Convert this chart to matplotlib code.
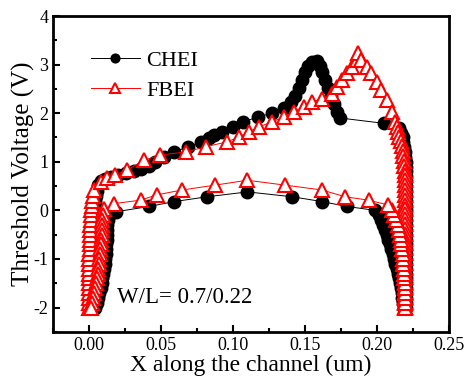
import matplotlib
matplotlib.use("Agg")
import matplotlib.pyplot as plt
from matplotlib.ticker import MultipleLocator

# ---------------- data ----------------
chei_up_x = [0.0000, 0.0003, 0.0006, 0.0008, 0.0010, 0.0012, 0.0014, 0.0015, 0.0016, 0.0017,
             0.0018, 0.0019, 0.0020, 0.0021, 0.0022, 0.0023, 0.0025, 0.0027, 0.0029, 0.0032,
             0.0035, 0.0038, 0.0042, 0.0047, 0.0053,
             0.0062, 0.0080, 0.0110, 0.0150, 0.0200, 0.0260, 0.0310, 0.0360, 0.0415, 0.0460,
             0.0520, 0.0590, 0.0690, 0.0780, 0.0830, 0.0870, 0.0920, 0.1000, 0.1070, 0.1170,
             0.1270, 0.1350, 0.1400, 0.1430, 0.1460, 0.1480, 0.1500, 0.1520, 0.1550, 0.1580,
             0.1600, 0.1620, 0.1640, 0.1660, 0.1680, 0.1700, 0.1720, 0.1745, 0.2050, 0.2150,
             0.2168, 0.2176, 0.2182, 0.2187, 0.2191, 0.2194, 0.2197, 0.2199, 0.2200, 0.2201,
             0.2202, 0.2202, 0.2202, 0.2202, 0.2202, 0.2202, 0.2202, 0.2202, 0.2202, 0.2202,
             0.2202, 0.2202, 0.2202, 0.2202, 0.2202, 0.2202, 0.2202, 0.2202, 0.2202, 0.2202,
             0.2202, 0.2202, 0.2202, 0.2202, 0.2202, 0.2202, 0.2202]
chei_up_y = [-2.0, -1.9, -1.8, -1.7, -1.6, -1.5, -1.4, -1.3, -1.2, -1.1,
             -1.0, -0.9, -0.8, -0.7, -0.6, -0.5, -0.4, -0.3, -0.2, -0.1,
             0.0, 0.1, 0.2, 0.3, 0.4,
             0.52, 0.60, 0.64, 0.68, 0.72, 0.76, 0.80, 0.86, 0.92, 1.00,
             1.10, 1.20, 1.31, 1.41, 1.48, 1.55, 1.62, 1.72, 1.82, 1.92,
             2.00, 2.10, 2.22, 2.36, 2.52, 2.68, 2.84, 2.97, 3.06, 3.08,
             2.98, 2.84, 2.68, 2.52, 2.36, 2.18, 2.02, 1.90, 1.79, 1.70,
             1.6, 1.5, 1.4, 1.3, 1.2, 1.1, 1.0, 0.9, 0.8, 0.7,
             0.6, 0.5, 0.4, 0.3, 0.2, 0.1, 0.0, -0.1, -0.2, -0.3,
             -0.4, -0.5, -0.6, -0.7, -0.8, -0.9, -1.0, -1.1, -1.2, -1.3,
             -1.4, -1.5, -1.6, -1.7, -1.8, -1.9, -2.0]

chei_low_x = [0.0040, 0.0052, 0.0063, 0.0072, 0.0080, 0.0087, 0.0093, 0.0099, 0.0104, 0.0108,
              0.0112, 0.0115, 0.0118, 0.0120, 0.0122, 0.0124, 0.0126, 0.0128, 0.0131,
              0.0140, 0.0185, 0.0415, 0.0590, 0.0820, 0.1100, 0.1410, 0.1620, 0.1790, 0.1988,
              0.2010, 0.2028, 0.2042, 0.2055, 0.2067, 0.2078, 0.2089, 0.2099, 0.2108, 0.2117,
              0.2126, 0.2135, 0.2143, 0.2150, 0.2157, 0.2163, 0.2169, 0.2174, 0.2179, 0.2184]
chei_low_y = [-2.0, -1.9, -1.8, -1.7, -1.6, -1.5, -1.4, -1.3, -1.2, -1.1,
              -1.0, -0.9, -0.8, -0.7, -0.6, -0.5, -0.4, -0.3, -0.2,
              -0.10, -0.03, 0.08, 0.18, 0.28, 0.38, 0.28, 0.18, 0.08, 0.00,
              -0.1, -0.2, -0.3, -0.4, -0.5, -0.6, -0.7, -0.8, -0.9, -1.0,
              -1.1, -1.2, -1.3, -1.4, -1.5, -1.6, -1.7, -1.8, -1.9, -2.0]

fbei_up_x = [0.0000, 0.0000, 0.0000, 0.0000, 0.0000, 0.0001, 0.0001, 0.0001, 0.0002, 0.0002,
             0.0003, 0.0003, 0.0004, 0.0005, 0.0006, 0.0007, 0.0008, 0.0010, 0.0012, 0.0014,
             0.0016, 0.0019, 0.0022, 0.0026,
             0.0035, 0.0080, 0.0127, 0.0180, 0.0265, 0.0380, 0.0496, 0.0670, 0.0810, 0.0960,
             0.1040, 0.1110, 0.1180, 0.1270, 0.1350, 0.1420, 0.1490, 0.1550, 0.1616, 0.1685,
             0.1720, 0.1755, 0.1790, 0.1824, 0.1860, 0.1870, 0.1890, 0.1927, 0.1960, 0.1997,
             0.2030, 0.2066, 0.2100, 0.2124,
             0.2135, 0.2145, 0.2155, 0.2163, 0.2170, 0.2176, 0.2181, 0.2185, 0.2188, 0.2190,
             0.2192, 0.2193, 0.2194, 0.2195, 0.2195, 0.2195, 0.2195, 0.2196, 0.2196, 0.2196,
             0.2196, 0.2196, 0.2196, 0.2196, 0.2196, 0.2196, 0.2196, 0.2196, 0.2196, 0.2196,
             0.2196, 0.2196, 0.2196, 0.2196, 0.2196, 0.2196, 0.2196, 0.2196]
fbei_up_y = [-2.0, -1.9, -1.8, -1.7, -1.6, -1.5, -1.4, -1.3, -1.2, -1.1,
             -1.0, -0.9, -0.8, -0.7, -0.6, -0.5, -0.4, -0.3, -0.2, -0.1,
             0.0, 0.1, 0.2, 0.3,
             0.42, 0.59, 0.66, 0.73, 0.83, 1.03, 1.14, 1.20, 1.31, 1.41,
             1.51, 1.62, 1.72, 1.82, 1.92, 2.03, 2.13, 2.23, 2.30, 2.40,
             2.54, 2.68, 2.82, 2.95, 3.09, 3.23, 3.09, 2.95, 2.82, 2.64,
             2.47, 2.27, 2.03, 1.82,
             1.72, 1.62, 1.52, 1.42, 1.32, 1.22, 1.12, 1.02, 0.92, 0.82,
             0.72, 0.62, 0.52, 0.42, 0.32, 0.22, 0.12, 0.02, -0.08, -0.18,
             -0.28, -0.38, -0.48, -0.58, -0.68, -0.78, -0.88, -0.98, -1.08, -1.18,
             -1.28, -1.38, -1.48, -1.58, -1.68, -1.78, -1.88, -1.98]

fbei_low_x = [0.0012, 0.0020, 0.0028, 0.0035, 0.0042, 0.0048, 0.0054, 0.0059, 0.0064, 0.0068,
              0.0072, 0.0076, 0.0079, 0.0082, 0.0085, 0.0087, 0.0089, 0.0091, 0.0093, 0.0095,
              0.0104, 0.0175, 0.0358, 0.0473, 0.0647, 0.0877, 0.1097, 0.1360, 0.1616, 0.1778,
              0.1940, 0.2078,
              0.2105, 0.2120, 0.2132, 0.2142, 0.2150, 0.2157, 0.2163, 0.2168, 0.2172, 0.2176,
              0.2179, 0.2182, 0.2184, 0.2186, 0.2188, 0.2190, 0.2191, 0.2192, 0.2193, 0.2194,
              0.2195]
fbei_low_y = [-2.0, -1.9, -1.8, -1.7, -1.6, -1.5, -1.4, -1.3, -1.2, -1.1,
              -1.0, -0.9, -0.8, -0.7, -0.6, -0.5, -0.4, -0.3, -0.2, -0.1,
              0.02, 0.14, 0.21, 0.32, 0.42, 0.52, 0.62, 0.52, 0.42, 0.28,
              0.21, 0.11,
              0.0, -0.1, -0.2, -0.3, -0.4, -0.5, -0.6, -0.7, -0.8, -0.9,
              -1.0, -1.1, -1.2, -1.3, -1.4, -1.5, -1.6, -1.7, -1.8, -1.9,
              -2.0]

x_ticks = [0.00, 0.05, 0.10, 0.15, 0.20, 0.25]
y_ticks = [-2, -1, 0, 1, 2, 3, 4]
annotation = "W/L= 0.7/0.22"

# ---------------- plot ----------------
plt.rcParams['font.family'] = ['Liberation Serif', 'DejaVu Serif']
fig = plt.figure(figsize=(4.65, 3.81), dpi=100)
ax = fig.add_axes([0.114, 0.129, 0.852, 0.829])

# one path per series: upper branch left->right, then lower branch right->left
chei_x = chei_up_x + chei_low_x[::-1]
chei_y = chei_up_y + chei_low_y[::-1]
fbei_x = fbei_up_x + fbei_low_x[::-1]
fbei_y = fbei_up_y + fbei_low_y[::-1]

ax.plot(chei_x, chei_y, color='black', lw=0.7, marker='o', ms=9,
        mfc='black', mec='black', label='CHEI', zorder=2)
ax.plot(fbei_x, fbei_y, color='red', lw=0.7, marker='^', ms=10,
        mfc='white', mec='red', mew=1.5, label='FBEI', zorder=3)

ax.set_xlim(-0.025, 0.25)
ax.set_ylim(-2.5, 4)
ax.set_xticks(x_ticks)
ax.set_xticklabels([f"{v:.2f}" for v in x_ticks])
ax.set_yticks(y_ticks)
ax.set_yticklabels([str(v) for v in y_ticks])
ax.xaxis.set_minor_locator(MultipleLocator(0.025))
ax.yaxis.set_minor_locator(MultipleLocator(0.5))
ax.tick_params(which='both', direction='in', top=False, right=False, labelsize=13, width=1.5)
ax.tick_params(which='major', length=5)
ax.tick_params(which='minor', length=3)
for s in ax.spines.values():
    s.set_linewidth(2)

ax.set_xlabel("X along the channel (um)", fontsize=17, labelpad=1)
ax.set_ylabel("Threshold Voltage (V)", fontsize=18, labelpad=-1)

ax.text(0.0194, -1.9, annotation, fontsize=16.5, va='baseline')

leg = ax.legend(loc='upper left', bbox_to_anchor=(0.096, 0.892), frameon=False,
                fontsize=16, handlelength=2.2, handletextpad=0.3, labelspacing=0.45,
                markerscale=0.7, borderpad=0, borderaxespad=0)

fig.savefig("out.png", dpi=100)
